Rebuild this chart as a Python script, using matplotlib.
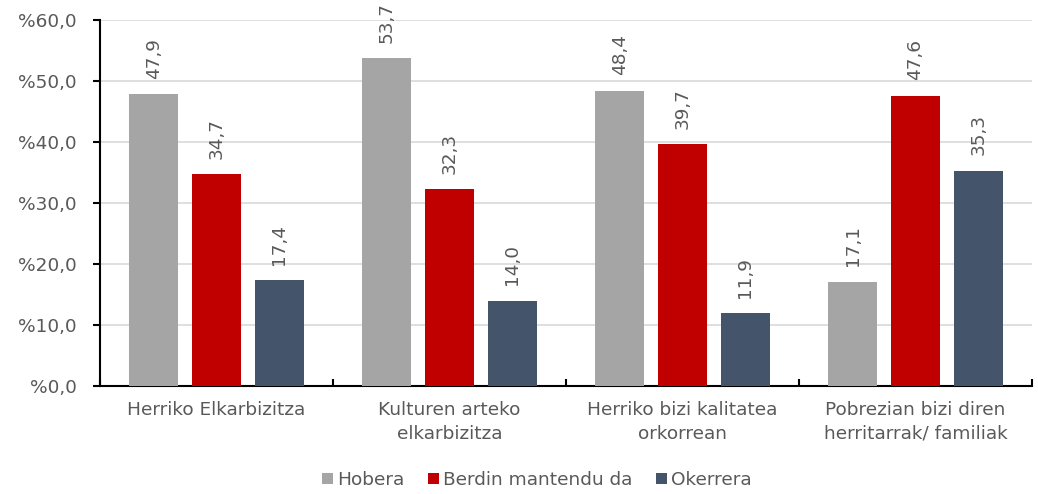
import matplotlib
matplotlib.use("Agg")
import matplotlib.pyplot as plt
import numpy as np

categories = ["Herriko Elkarbizitza", "Kulturen arteko\nelkarbizitza",
              "Herriko bizi kalitatea\norkorrean", "Pobrezian bizi diren\nherritarrak/ familiak"]
series_names = ["Hobera", "Berdin mantendu da", "Okerrera"]
hobera = [47.9, 53.7, 48.4, 17.1]
berdin = [34.7, 32.3, 39.7, 47.6]
okerrera = [17.4, 14.0, 11.9, 35.3]
yticks = [0, 10, 20, 30, 40, 50, 60]
colors = ["#A5A5A5", "#C00000", "#44546A"]
text_color = "#595959"

plt.rcParams['font.family'] = 'sans-serif'
plt.rcParams['font.sans-serif'] = ['DejaVu Sans']
FS = 13.3
fig = plt.figure(figsize=(10.38, 4.94), dpi=100)
ax = fig.add_axes([100/1038, (494-386)/494, (1032-100)/1038, (386-20)/494])

x = np.arange(len(categories))
w = 0.21
step = 0.27
for i, (vals, name, c) in enumerate(zip([hobera, berdin, okerrera], series_names, colors)):
    pos = x + (i - 1) * step
    ax.bar(pos, vals, width=w, color=c, label=name, zorder=3)
    for xp, v in zip(pos, vals):
        ax.annotate(f"{v:.1f}".replace(".", ","), (xp, v), xytext=(0, 11),
                    textcoords="offset points", rotation=90, ha="center", va="bottom",
                    fontsize=FS, color=text_color, annotation_clip=False)

ax.set_xlim(-0.5, len(categories) - 0.5)
ax.set_ylim(0, 60)
ax.set_yticks(yticks)
ax.set_yticklabels([f"%{t:.1f}".replace(".", ",") for t in yticks], fontsize=FS, color=text_color)
ax.yaxis.grid(True, color="#D9D9D9", linewidth=1.2, zorder=0)
ax.set_axisbelow(True)
ax.tick_params(axis='y', length=5, width=1.5, color="black", pad=12, direction='out')

ax.set_xticks(np.arange(len(categories) + 1) - 0.5)
ax.set_xticklabels([])
ax.set_xticks(x, minor=True)
ax.set_xticklabels(categories, minor=True, fontsize=FS, color=text_color, linespacing=1.4)
ax.tick_params(axis='x', which='major', direction='in', length=5, width=1.5, color="black")
ax.tick_params(axis='x', which='minor', length=0, pad=11)

for s in ['top', 'right']:
    ax.spines[s].set_visible(False)
ax.spines['left'].set_linewidth(1.5)
ax.spines['bottom'].set_linewidth(1.5)

leg = fig.legend(loc='center', bbox_to_anchor=(537/1038, 1 - 480/494), ncol=3, frameon=False,
                 fontsize=FS, handlelength=0.6, handleheight=0.6, handletextpad=0.2, columnspacing=1.3)
for t in leg.get_texts():
    t.set_color(text_color)

fig.savefig("out.png", dpi=100)
